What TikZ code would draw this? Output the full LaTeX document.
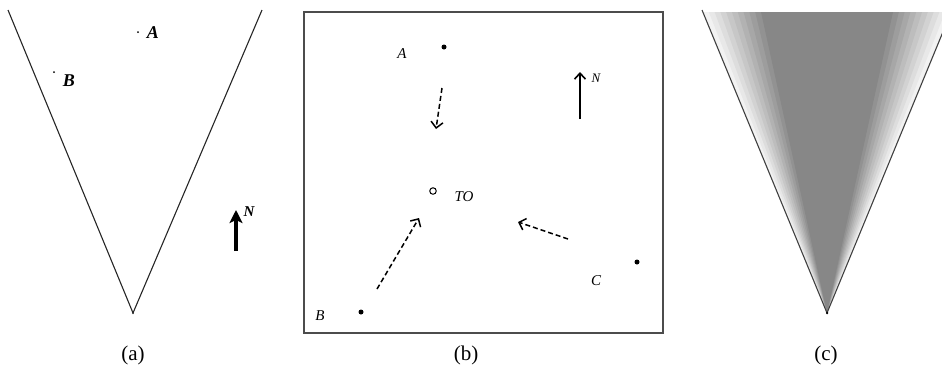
\documentclass[tikz,border=0pt]{standalone}
\usepackage{fontspec}
\setmainfont{Liberation Serif}
\usetikzlibrary{arrows.meta, positioning}

\begin{document}
\begin{tikzpicture}[x=1pt, y=-1pt,
  every node/.style={inner sep=0pt},
  tinydot/.style={circle, fill=black, minimum size=2pt},
  site/.style={circle, fill=black, minimum size=5pt},
  hollow/.style={circle, draw=black, line width=1pt, fill=white, minimum size=6.5pt},
  boldlbl/.style={font=\fontsize{18}{20}\selectfont\bfseries\itshape},
  lbl/.style={font=\fontsize{15}{17}\selectfont\itshape},
  caption/.style={font=\fontsize{21}{24}\selectfont},
  move/.style={dash pattern=on 5pt off 3pt, line width=1.5pt, -{Straight Barb[length=6pt, width=12pt]}}]

\useasboundingbox (0,0) rectangle (942,389);

% Panel (a): sector
\coordinate (apexa) at (133,313);
\draw[line width=1.1pt, black!85] (8,10) -- (apexa) -- (262,10);
\node[tinydot, minimum size=1.5pt] at (apexa) {};
\node[tinydot] (ptA) at (138,32) {};
\node[boldlbl] (labA) at (153,33) {A};
\node[tinydot] (ptB) at (54,72) {};
\node[boldlbl] (labB) at (69,81) {B};
% North arrow
\coordinate (na0) at (236,251);
\coordinate (na1) at (236,210);
\draw[line width=3.2pt, -{Stealth[length=13pt, width=13pt, inset=3pt]}] (na0) -- (na1);
\node[font=\fontsize{15}{17}\selectfont\bfseries\itshape] (Na) at (249,212) {N};
\node[caption] (capa) at (133,355) {(a)};

% Panel (b): plan of the site
\draw[line width=1.8pt, black!70] (304,12) rectangle (663,333);
\node[site] (pA) at (444,47) {};
\node[lbl] (lA) at (402,54) {A};
\node[site] (pB) at (361,312) {};
\node[lbl] (lB) at (320,316) {B};
\node[site] (pC) at (637,262) {};
\node[lbl] (lC) at (596,281) {C};
\node[hollow] (to) at (433,191) {};
\node[lbl] (lTO) at (464,197) {TO};
% Moves towards TO
\coordinate (mA0) at (442,88);
\coordinate (mA1) at (436,129);
\coordinate (mB0) at (377,289);
\coordinate (mB1) at (419,218);
\coordinate (mC0) at (568,239);
\coordinate (mC1) at (518,222);
\draw[move] (mA0) -- (mA1);
\draw[move] (mB0) -- (mB1);
\draw[move] (mC0) -- (mC1);
% North arrow
\coordinate (nb0) at (580,119);
\coordinate (nb1) at (580,72);
\draw[line width=1.6pt, -{Straight Barb[length=6pt, width=11pt]}] (nb0) -- (nb1);
\node[font=\fontsize{13}{15}\selectfont\itshape] (Nb) at (596,78) {N};
\node[caption] (capb) at (466,355) {(b)};

% Panel (c): shaded sector
\begin{scope}
  \clip (690,0) rectangle (942,389);
  \coordinate (apexc) at (827,313);
  \foreach \i in {0,...,10} {
    \pgfmathsetmacro\hw{124-5.8*\i}
    \pgfmathsetmacro\lev{5+4.2*\i}
    \fill[black!\lev] (apexc) -- (827-\hw,12) -- (827+\hw,12) -- cycle;
  }
  \draw[line width=1.1pt, black!75] (702,10) -- (apexc) -- (952,10);
\end{scope}
\node[tinydot, minimum size=2.5pt] at (apexc) {};
\node[caption] (capc) at (826,355) {(c)};

\end{tikzpicture}
\end{document}
